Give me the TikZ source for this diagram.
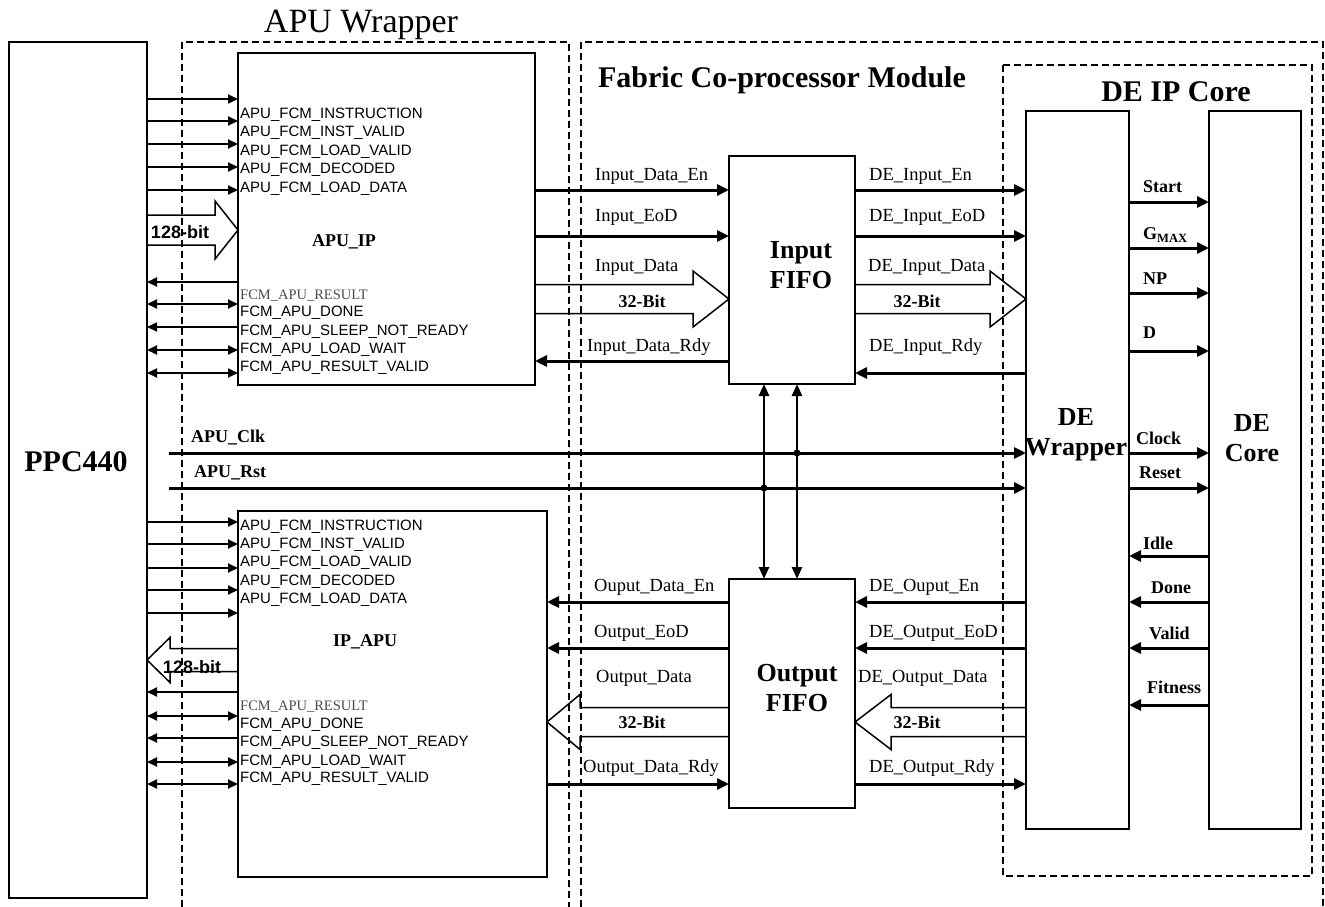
\documentclass[tikz,border=0pt]{standalone}
\usepackage{fontspec}
\setmainfont{Liberation Serif}
\setsansfont{Liberation Sans}
\usetikzlibrary{arrows.meta,positioning,calc}

\begin{document}
\begin{tikzpicture}[x=1pt,y=-1pt,
          box/.style={draw,line width=1.5pt,inner sep=0pt,outer sep=0pt},
          region/.style={draw,line width=1.3pt,dash pattern=on 7pt off 4pt},
          sigin/.style={line width=1.8pt,-{Triangle[length=10pt,width=9pt]}},
          sigout/.style={line width=1.8pt,{Triangle[length=10pt,width=9pt]}-},
          sigboth/.style={line width=1.8pt,{Triangle[length=10pt,width=9pt]}-{Triangle[length=10pt,width=9pt]}},
          wire/.style={line width=3pt,-{Triangle[length=12pt,width=11pt]}},
          wireboth/.style={line width=2.6pt,{Triangle[length=12pt,width=10pt]}-{Triangle[length=12pt,width=10pt]}},
          bus/.style={line width=1.5pt},
          pin/.style={font=\sffamily\fontsize{15}{18}\selectfont,inner sep=0pt,anchor=west},
          sig/.style={font=\fontsize{18.5}{20}\selectfont,inner sep=0pt,anchor=west},
          bsig/.style={font=\bfseries\fontsize{18}{20}\selectfont,inner sep=0pt},
          heading/.style={font=\bfseries\fontsize{30}{32}\selectfont,inner sep=0pt},
          blocklbl/.style={font=\bfseries\fontsize{26}{30}\selectfont,inner sep=0pt,align=center}]
        \useasboundingbox (0,0) rectangle (1325,907);
        % regions
        \draw[region] (182,907) -- (182,42) -- (569,42) -- (569,907);
        \draw[region] (581,907) -- (581,42) -- (1323,42) -- (1323,907);
        \draw[region] (1003,65) rectangle (1312,876);
        \node[font=\fontsize{34}{36}\selectfont,inner sep=0pt] (t-apu) at (361,25) {APU Wrapper};
        \node[heading] (t-fcm) at (782,80) {Fabric Co-processor Module};
        \node[heading] (t-de) at (1176,92) {DE IP Core};
        % blocks
        \node[box,minimum width=138pt,minimum height=856pt] (ppc) at (78,470) {};
        \node[box,minimum width=297pt,minimum height=332pt] (apuip) at (386.5,219) {};
        \node[box,minimum width=309pt,minimum height=366pt] (ipapu) at (392.5,694) {};
        \node[box,minimum width=126pt,minimum height=228pt] (infifo) at (792,270) {};
        \node[box,minimum width=126pt,minimum height=229pt] (outfifo) at (792,693.5) {};
        \node[box,minimum width=103pt,minimum height=718pt] (dewrap) at (1077.5,470) {};
        \node[box,minimum width=92pt,minimum height=718pt] (decore) at (1255,470) {};
        \node[heading] (ppc-t) at (76,462) {PPC440};
        \node[bsig] (apuip-t) at (344,242) {APU\_IP};
        \node[bsig] (ipapu-t) at (365,642) {IP\_APU};
        \node[blocklbl] (infifo-t) at (801,265) {Input\\FIFO};
        \node[blocklbl] (outfifo-t) at (797,688) {Output\\FIFO};
        \node[blocklbl] (dewrap-t) at (1076,435) {DE\\Wrapper};
        \node[blocklbl] (decore-t) at (1252,438) {DE\\Core};
        % PPC440 <-> APU_IP / IP_APU
        \foreach \y/\tip in {99/sigin,121/sigin,144/sigin,167/sigin,190/sigin,
                             282/sigout,304/sigboth,327/sigout,350/sigboth,373/sigboth}
          \draw[\tip] (ppc.east |- 0,\y) -- (apuip.west |- 0,\y);
        \foreach \y/\tip in {522/sigin,544/sigin,568/sigin,590/sigin,613/sigin,
                             692/sigout,716/sigboth,738/sigout,762/sigboth,784/sigboth}
          \draw[\tip] (ppc.east |- 0,\y) -- (ipapu.west |- 0,\y);
        \foreach \y/\n [count=\i] in {115/APU\_FCM\_INSTRUCTION,133/APU\_FCM\_INST\_VALID,
                             152/APU\_FCM\_LOAD\_VALID,170/APU\_FCM\_DECODED,189/APU\_FCM\_LOAD\_DATA,
                             313/FCM\_APU\_DONE,332/FCM\_APU\_SLEEP\_NOT\_READY,
                             350/FCM\_APU\_LOAD\_WAIT,368/FCM\_APU\_RESULT\_VALID}
          \node[pin] (pa-\i) at (240,\y) {\n};
        \foreach \y/\n [count=\i] in {527/APU\_FCM\_INSTRUCTION,545/APU\_FCM\_INST\_VALID,
                             563/APU\_FCM\_LOAD\_VALID,582/APU\_FCM\_DECODED,600/APU\_FCM\_LOAD\_DATA,
                             725/FCM\_APU\_DONE,743/FCM\_APU\_SLEEP\_NOT\_READY,
                             762/FCM\_APU\_LOAD\_WAIT,779/FCM\_APU\_RESULT\_VALID}
          \node[pin] (pb-\i) at (240,\y) {\n};
        \node[sig,font=\fontsize{14.5}{16}\selectfont,text=black!70] (pa-r) at (240,296) {FCM\_APU\_RESULT};
        \node[sig,font=\fontsize{14.5}{16}\selectfont,text=black!70] (pb-r) at (240,707) {FCM\_APU\_RESULT};
        % wide buses
        \foreach \t/\h/\p/\c/\b/\H in {ppc.east/215/apuip.west/230/15/29,
                                       ipapu.west/170/ppc.east/660/11.5/22.5,
                                       apuip.east/693/infifo.west/299/14.5/28,
                                       infifo.east/990/dewrap.west/299/14.5/28,
                                       outfifo.west/580/ipapu.east/722/14.5/27.5,
                                       dewrap.west/891/outfifo.east/722/14.5/27.5}
          \draw[bus] (\t |- 0,\c-\b) -- (\h,\c-\b) -- (\h,\c-\H) -- (\p |- 0,\c)
                     -- (\h,\c+\H) -- (\h,\c+\b) -- (\t |- 0,\c+\b);
        \node[bsig,font=\sffamily\bfseries\fontsize{18}{20}\selectfont] (w-in) at (180,232) {128-bit};
        \node[bsig,font=\sffamily\bfseries\fontsize{18}{20}\selectfont] (w-out) at (192,667) {128-bit};
        \foreach \x/\y [count=\i] in {642/301,917/301,642/722,917/722}
          \node[bsig] (w-\i) at (\x,\y) {32-Bit};
        % FIFO control signals
        \draw[wire] (apuip.east |- 0,190) -- (infifo.west |- 0,190);
        \draw[wire] (apuip.east |- 0,236) -- (infifo.west |- 0,236);
        \draw[wire] (infifo.west |- 0,361) -- (apuip.east |- 0,361);
        \draw[wire] (infifo.east |- 0,190) -- (dewrap.west |- 0,190);
        \draw[wire] (infifo.east |- 0,236) -- (dewrap.west |- 0,236);
        \draw[wire] (dewrap.west |- 0,373) -- (infifo.east |- 0,373);
        \draw[wire] (outfifo.west |- 0,602) -- (ipapu.east |- 0,602);
        \draw[wire] (outfifo.west |- 0,648) -- (ipapu.east |- 0,648);
        \draw[wire] (ipapu.east |- 0,784) -- (outfifo.west |- 0,784);
        \draw[wire] (dewrap.west |- 0,602) -- (outfifo.east |- 0,602);
        \draw[wire] (dewrap.west |- 0,648) -- (outfifo.east |- 0,648);
        \draw[wire] (outfifo.east |- 0,784) -- (dewrap.west |- 0,784);
        \node[sig] (s-ide) at (595,176) {Input\_Data\_En};
        \node[sig] (s-ieod) at (595,217) {Input\_EoD};
        \node[sig] (s-id) at (595,267) {Input\_Data};
        \node[sig] (s-idr) at (587,347) {Input\_Data\_Rdy};
        \node[sig] (s-dide) at (869,176) {DE\_Input\_En};
        \node[sig] (s-dieod) at (869,217) {DE\_Input\_EoD};
        \node[sig] (s-did) at (868,267) {DE\_Input\_Data};
        \node[sig] (s-didr) at (869,347) {DE\_Input\_Rdy};
        \node[sig] (s-ode) at (594,587) {Ouput\_Data\_En};
        \node[sig] (s-oeod) at (594,633) {Output\_EoD};
        \node[sig] (s-od) at (596,678) {Output\_Data};
        \node[sig] (s-odr) at (583,768) {Output\_Data\_Rdy};
        \node[sig] (s-dode) at (869,587) {DE\_Ouput\_En};
        \node[sig] (s-doeod) at (869,633) {DE\_Output\_EoD};
        \node[sig] (s-dod) at (858,678) {DE\_Output\_Data};
        \node[sig] (s-dodr) at (869,768) {DE\_Output\_Rdy};
        % clock and reset
        \coordinate (clk0) at (169,453);
        \coordinate (rst0) at (169,488);
        \draw[wire] (clk0) -- (dewrap.west |- clk0);
        \draw[wire] (rst0) -- (dewrap.west |- rst0);
        \node[bsig,anchor=west] (clk-t) at (191,438) {APU\_Clk};
        \node[bsig,anchor=west] (rst-t) at (194,473) {APU\_Rst};
        \draw[wireboth] (infifo.south -| 764,0) -- (outfifo.north -| 764,0);
        \draw[wireboth] (infifo.south -| 797,0) -- (outfifo.north -| 797,0);
        \fill (797,453) circle (3.5pt);
        \fill (764,488) circle (3.5pt);
        % DE wrapper <-> DE core
        \foreach \y/\n/\lx/\ly [count=\i] in {202/Start/1143/187,248/G\textsubscript{MAX}/1143/235,
                                     293/NP/1143/279,351/D/1143/333,453/Clock/1136/438,488/Reset/1139/473}
          {\draw[wire] (dewrap.east |- 0,\y) -- (decore.west |- 0,\y);
           \node[bsig,anchor=west] (c-\i) at (\lx,\ly) {\n};}
        \foreach \y/\n/\lx/\ly [count=\i] in {556/Idle/1143/543,602/Done/1151/588,
                                     648/Valid/1149/633,705/Fitness/1147/687}
          {\draw[wire] (decore.west |- 0,\y) -- (dewrap.east |- 0,\y);
           \node[bsig,anchor=west] (r-\i) at (\lx,\ly) {\n};}
      \end{tikzpicture}
\end{document}
